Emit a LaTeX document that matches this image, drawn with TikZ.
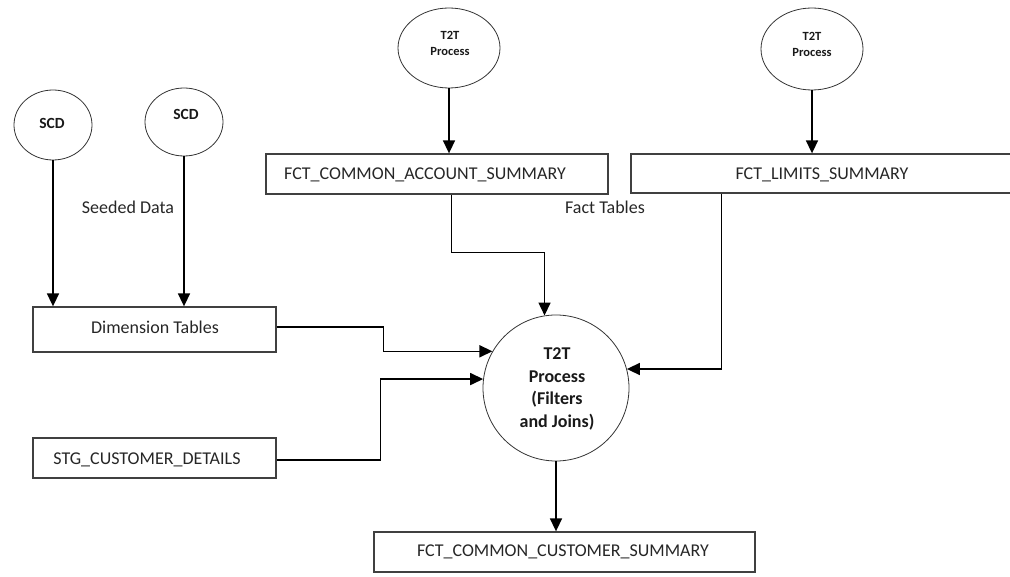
\documentclass[tikz,border=0pt]{standalone}
\usepackage{fontspec}
\setmainfont{Carlito}
\usetikzlibrary{arrows.meta,shapes.geometric}
\tikzset{
  box/.style={draw=black!75, line width=1.3pt, rectangle, inner sep=0pt},
  oval/.style={draw=black!80, line width=0.8pt, ellipse, inner sep=0pt},
  proc/.style={draw=black!80, line width=0.8pt, circle, inner sep=0pt, minimum size=146pt},
  lbl/.style={font=\fontsize{18}{22}\selectfont, text=black!85, inner sep=0pt},
  small/.style={font=\bfseries\fontsize{12.5}{16}\selectfont, text=black!90, align=center, inner sep=0pt},
  scdtxt/.style={font=\bfseries\fontsize{15.5}{18}\selectfont, text=black!90, inner sep=0pt},
  big/.style={font=\bfseries\fontsize{18}{22.5}\selectfont, text=black!90, align=center, inner sep=0pt},
  flow/.style={line width=1.6pt, -{Triangle[length=13pt,width=12pt]}},
}
\begin{document}
\begin{tikzpicture}[x=1pt,y=-1pt]
\clip (0,0) rectangle (1010,577);

% source ellipses
\node[oval, minimum width=78pt, minimum height=70pt] (scd1) at (53,125) {};
\node[scdtxt] (scd1t) at (52,123) {SCD};
\node[oval, minimum width=78pt, minimum height=68pt] (scd2) at (184,122) {};
\node[scdtxt] (scd2t) at (186,114) {SCD};
\node[oval, minimum width=102pt, minimum height=80pt] (t1) at (449,48) {};
\node[small] (t1t) at (450,43) {T2T\\Process};
\node[oval, minimum width=102pt, minimum height=82pt] (t2) at (812,49) {};
\node[small] (t2t) at (812,44) {T2T\\Process};

% tables (the limits table runs on past the right margin)
\node[box, minimum width=342pt, minimum height=40pt] (acct) at (437,174) {};
\node[lbl] (acctt) at (425,175) {FCT\_COMMON\_ACCOUNT\_SUMMARY};
\node[box, minimum width=429pt, minimum height=39pt] (lim) at (845.5,173.5) {};
\node[lbl] (limt) at (822,175) {FCT\_LIMITS\_SUMMARY};
\node[box, minimum width=243pt, minimum height=45pt] (dim) at (154.5,329.5) {};
\node[lbl] (dimt) at (155,327) {Dimension Tables};
\node[box, minimum width=243pt, minimum height=40pt] (stg) at (154.5,458) {};
\node[lbl] (stgt) at (147,460) {STG\_CUSTOMER\_DETAILS};
\node[box, minimum width=381pt, minimum height=40pt] (sum) at (564.5,552) {};
\node[lbl] (sumt) at (563,552) {FCT\_COMMON\_CUSTOMER\_SUMMARY};

% central process
\node[proc] (circ) at (556,388) {};
\node[big] (circt) at (557,389) {T2T\\Process\\(Filters\\and Joins)};

% free labels
\node[lbl] (seed) at (128,207) {Seeded Data};
\node[lbl] (fact) at (605,207) {Fact Tables};

% connectors
\draw[flow] (scd1.south) -- (scd1.south |- dim.north);
\draw[flow] (scd2.south) -- (scd2.south |- dim.north);
\draw[flow] (t1.south) -- (t1.south |- acct.north);
\draw[flow] (t2.south) -- (t2.south |- lim.north);
\draw[flow] ([xshift=186pt]acct.south west) -- ++(0,58) -| (circ.99.3);
\draw[flow] ([xshift=91pt]lim.south west) |- (circ.15.7);
\draw[flow] ([yshift=2.5pt]dim.east) -- ++(107,0) |- (circ.150.5);
\draw[flow] ([yshift=-2pt]stg.east) -- ++(104,0) |- (circ.173);
\draw[flow] (circ.south) -- (circ.south |- sum.north);
\end{tikzpicture}
\end{document}
